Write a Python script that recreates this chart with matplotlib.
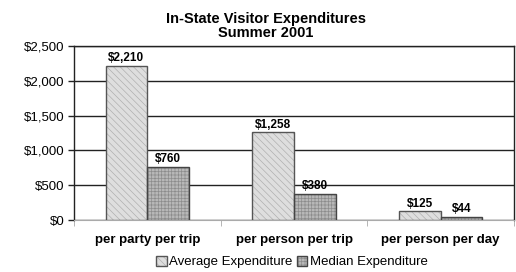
import matplotlib
matplotlib.use("Agg")
import matplotlib.pyplot as plt
import numpy as np

categories = ["per party per trip", "per person per trip", "per person per day"]
average = [2210, 1258, 125]
median = [760, 380, 44]
avg_labels = ["$2,210", "$1,258", "$125"]
med_labels = ["$760", "$380", "$44"]
yticks = [0, 500, 1000, 1500, 2000, 2500]
ytick_labels = ["$0", "$500", "$1,000", "$1,500", "$2,000", "$2,500"]

plt.rcParams['font.family'] = ['Liberation Sans', 'DejaVu Sans']
plt.rcParams['hatch.linewidth'] = 0.5

fig = plt.figure(figsize=(5.16, 2.72), dpi=100)
ax = fig.add_axes([74/516, 1-220/272, 440/516, 174/272])

x = np.arange(len(categories))
w = 0.285
b1 = ax.bar(x - w/2, average, w, facecolor='#dedede', edgecolor='#555555', hatch='\\\\\\\\\\', linewidth=1.0, zorder=3, label='Average Expenditure')
b2 = ax.bar(x + w/2, median, w, facecolor='#b8b8b8', edgecolor='#444444', hatch='+++++', linewidth=1.0, zorder=3, label='Median Expenditure')
for p in b1.patches:
    p._hatch_color = matplotlib.colors.to_rgba('#b0b0b0')
for p in b2.patches:
    p._hatch_color = matplotlib.colors.to_rgba('#8c8c8c')

for xi, v, t in zip(x - w/2, average, avg_labels):
    ax.text(xi, v + 25, t, ha='center', va='bottom', fontsize=8.5, fontweight='bold')
for xi, v, t in zip(x + w/2, median, med_labels):
    ax.text(xi, v + 25, t, ha='center', va='bottom', fontsize=8.5, fontweight='bold')

ax.set_xlim(-0.5, 2.5)
ax.set_ylim(0, 2500)
ax.set_yticks(yticks)
ax.set_yticklabels(ytick_labels, fontsize=9.5)
ax.yaxis.grid(True, color='#222222', linewidth=1.0, zorder=0)
ax.set_xticks(x)
ax.set_xticklabels(categories, fontsize=9.5, fontweight='bold')
ax.tick_params(axis='x', length=0, pad=10)
ax.set_xticks([-0.5, 0.5, 1.5, 2.5], minor=True)
ax.tick_params(axis='x', which='minor', length=4, color='#aaaaaa')
ax.tick_params(axis='y', length=4, color='#222222', width=1.0, pad=3)
for s in ['top', 'right', 'left']:
    ax.spines[s].set_color('#222222')
    ax.spines[s].set_linewidth(1.0)
ax.spines['bottom'].set_color('#aaaaaa')

fig.text(266/516, 1-26/272, "In-State Visitor Expenditures\nSummer 2001", ha='center', va='center', fontsize=10.5, fontweight='bold', linespacing=1.05)

leg = fig.legend(handles=[b1, b2], loc='center', bbox_to_anchor=(292/516, 1-262/272), ncol=2, fontsize=9.5,
                 frameon=False, handlelength=0.8, handleheight=0.8, handletextpad=0.2, columnspacing=0.3, borderpad=0.2)

fig.savefig("out.png", dpi=100)
